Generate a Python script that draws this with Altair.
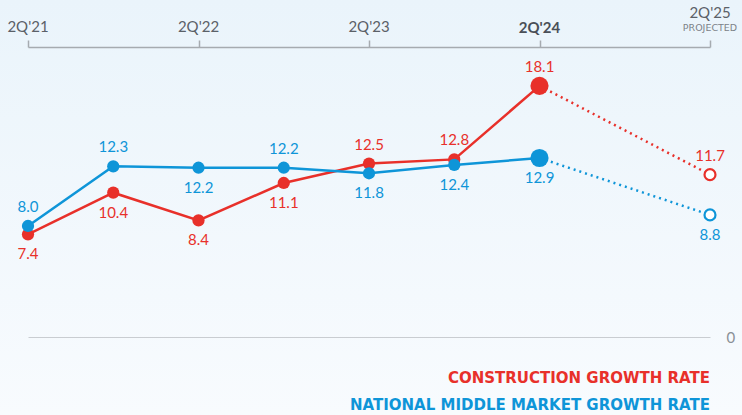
import altair as alt
import pandas as pd

# ---- data ----
periods = ["2Q'21", "4Q'21", "2Q'22", "4Q'22", "2Q'23", "4Q'23", "2Q'24", "2Q'25"]
period_idx = [0, 1, 2, 3, 4, 5, 6, 8]
construction = [7.4, 10.4, 8.4, 11.1, 12.5, 12.8, 18.1, 11.7]
national = [8.0, 12.3, 12.2, 12.2, 11.8, 12.4, 12.9, 8.8]
construction_side = ["below", "below", "below", "below", "above", "above", "above", "above"]
national_side = ["above", "above", "below", "above", "below", "below", "below", "below"]
axis_labels = ["2Q'21", "2Q'22", "2Q'23", "2Q'24", "2Q'25"]
axis_idx = [0, 2, 4, 6, 8]
series_names = ["CONSTRUCTION GROWTH RATE", "NATIONAL MIDDLE MARKET GROWTH RATE"]

RED = "#E8302A"
BLUE = "#0E95D8"
FONT = "Lato"

rows = []
for name, vals, sides in [("Construction", construction, construction_side),
                          ("National", national, national_side)]:
    for p, i, v, s in zip(periods, period_idx, vals, sides):
        kind = "actual" if i < 6 else ("current" if i == 6 else "projected")
        rows.append({"series": name, "period": p, "idx": i, "value": v,
                     "side": s, "kind": kind, "label": f"{v:.1f}"})
df = pd.DataFrame(rows)
ticks_df = pd.DataFrame({"idx": axis_idx, "label": axis_labels})

xscale = alt.Scale(domain=[0, 8], nice=False, zero=False)
yscale = alt.Scale(domain=[0, 20.9], nice=False)
color = alt.Color("series:N", scale=alt.Scale(domain=["Construction", "National"],
                                              range=[RED, BLUE]), legend=None)

base = alt.Chart(df)

bg = alt.Chart(pd.DataFrame({"a": [0]})).mark_rect(
    color=alt.LinearGradient(gradient="linear", x1=0, x2=0, y1=0, y2=1,
                             stops=[alt.GradientStop(color="#EAF4FB", offset=0),
                                    alt.GradientStop(color="#F8FBFE", offset=1)])
).encode(x=alt.value(-28), x2=alt.value(714), y=alt.value(-47), y2=alt.value(368))

x_enc = alt.X("idx:Q", scale=xscale,
              axis=alt.Axis(orient="top", values=axis_idx, labels=False, title=None,
                            tickSize=7, tickColor="#A6ABB0", tickWidth=1.5,
                            domainColor="#A6ABB0", domainWidth=1.5, grid=False,
                            zindex=1))
y_enc = alt.Y("value:Q", scale=yscale,
              axis=alt.Axis(orient="right", values=[0], title=None, domain=False,
                            ticks=False, grid=True, gridColor="#C9CDD1", gridWidth=1.2,
                            labelColor="#8A9096", labelFontSize=15, labelFont=FONT,
                            labelPadding=16, zindex=1))

solid = base.transform_filter("datum.idx <= 6").mark_line(strokeWidth=2.5).encode(
    x=x_enc, y=y_enc, color=color, detail="series:N")
dotted = base.transform_filter("datum.idx >= 6").mark_line(
    strokeWidth=2.5, strokeDash=[2, 4]).encode(
    x="idx:Q", y="value:Q", color=color, detail="series:N")

pts_actual = base.transform_filter("datum.kind == 'actual'").mark_circle(
    size=150, opacity=1).encode(x="idx:Q", y="value:Q", color=color)
pts_current = base.transform_filter("datum.kind == 'current'").mark_circle(
    size=330, opacity=1).encode(x="idx:Q", y="value:Q", color=color)
pts_proj = base.transform_filter("datum.kind == 'projected'").mark_point(
    shape="circle", size=120, filled=True, fill="white", strokeWidth=2.2,
    opacity=1).encode(x="idx:Q", y="value:Q",
                      stroke=alt.Stroke("series:N", scale=alt.Scale(
                          domain=["Construction", "National"], range=[RED, BLUE]),
                          legend=None))

lab_above = base.transform_filter("datum.side == 'above'").mark_text(
    font=FONT, fontSize=15, baseline="middle", dy=-19).encode(
    x="idx:Q", y="value:Q", text="label:N", color=color)
lab_below = base.transform_filter("datum.side == 'below'").mark_text(
    font=FONT, fontSize=15, baseline="middle", dy=20).encode(
    x="idx:Q", y="value:Q", text="label:N", color=color)

tick_labels = alt.Chart(ticks_df).transform_filter("datum.idx < 6").mark_text(
    font=FONT, fontSize=15, baseline="middle", color="#5B6168").encode(
    x="idx:Q", y=alt.value(-20), text="label:N")
tick_bold = alt.Chart(ticks_df).transform_filter("datum.idx == 6").mark_text(
    font=FONT, fontSize=15, fontWeight="bold", baseline="middle", color="#4A5058").encode(
    x="idx:Q", y=alt.value(-19), text="label:N")
tick_last = alt.Chart(ticks_df).transform_filter("datum.idx == 8").mark_text(
    font=FONT, fontSize=15, baseline="middle", color="#5B6168").encode(
    x="idx:Q", y=alt.value(-34), text="label:N")
projected = alt.Chart(ticks_df).transform_filter("datum.idx == 8").mark_text(
    font="DejaVu Sans", fontSize=9.5, baseline="middle", color="#7C8288").encode(
    x="idx:Q", y=alt.value(-19), text=alt.value("PROJECTED"))

legend_df = pd.DataFrame({"name": series_names, "series": ["Construction", "National"],
                          "row": [0, 1]})
leg1 = alt.Chart(legend_df).transform_filter("datum.row == 0").mark_text(
    font="DejaVu Sans", fontSize=15, fontWeight="bold", align="right",
    baseline="middle").encode(
    x=alt.value(682), y=alt.value(331), text="name:N", color=color)
leg2 = alt.Chart(legend_df).transform_filter("datum.row == 1").mark_text(
    font="DejaVu Sans", fontSize=15, fontWeight="bold", align="right",
    baseline="middle").encode(
    x=alt.value(682), y=alt.value(358), text="name:N", color=color)

chart = alt.layer(bg, solid, dotted, pts_actual, pts_current, pts_proj,
                  lab_above, lab_below, tick_labels, tick_bold, tick_last, projected,
                  leg1, leg2).properties(
    width=682, height=290,
    autosize=alt.AutoSizeParams(type="none"),
    padding={"left": 28, "top": 47, "right": 32, "bottom": 78},
    background="#F3F8FC",
).configure_view(stroke=None)

chart.save("out.html", embed_options={"renderer": "svg", "actions": False})
